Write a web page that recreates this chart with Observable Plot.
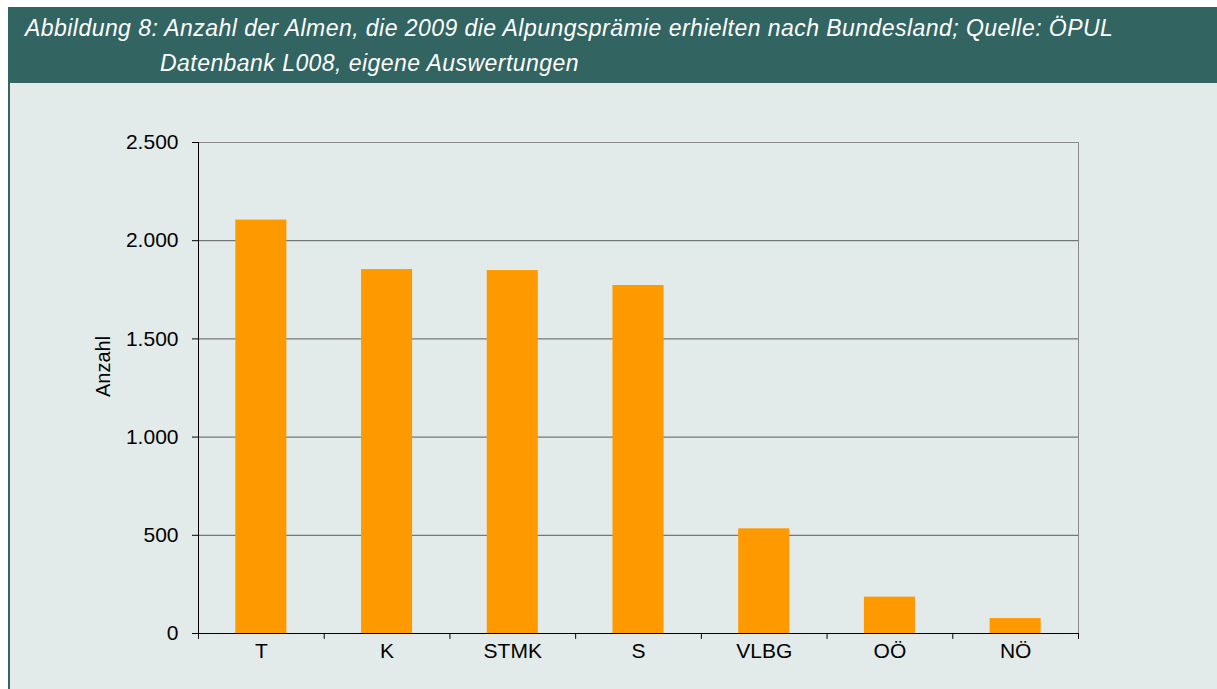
<!DOCTYPE html>
<html>
<head>
<meta charset="utf-8">
<script src="https://cdn.jsdelivr.net/npm/d3@7"></script>
<script src="https://cdn.jsdelivr.net/npm/@observablehq/plot@0.6"></script>
<style>
  html, body { margin: 0; padding: 0; background: #ffffff; width: 1217px; height: 689px; overflow: hidden; }
  #header { position: absolute; left: 8px; top: 7px; width: 1209px; height: 76px; background: #326462; }
  .tl { position: absolute; color: #ffffff; font-family: "Liberation Sans", Arial, sans-serif; font-style: italic; font-size: 23px; line-height: 23px; letter-spacing: 0.45px; white-space: nowrap; }
  #panel { position: absolute; left: 8px; top: 83px; width: 1207px; height: 606px; background: #e2ebe9; border-left: 2px solid #326462; }
  #chart { position: absolute; left: 10px; top: 83px; }
</style>
</head>
<body>
<div id="header"></div>
<div class="tl" id="t1" style="left:25px; top:16.5px;"></div>
<div class="tl" id="t2" style="left:160px; top:51.5px;"></div>
<div id="panel"></div>
<div id="chart"></div>
<script>
const titleLines = [
  "Abbildung 8: Anzahl der Almen, die 2009 die Alpungsprämie erhielten nach Bundesland; Quelle: ÖPUL",
  "Datenbank L008, eigene Auswertungen"
];
const categories = ["T", "K", "STMK", "S", "VLBG", "OÖ", "NÖ"];
const values = [2105, 1853, 1848, 1772, 533, 185, 76];
const yTicks = [0, 500, 1000, 1500, 2000, 2500];
const gridTicks = [500, 1000, 1500, 2000];
const yLabel = "Anzahl";

document.getElementById("t1").textContent = titleLines[0];
document.getElementById("t2").textContent = titleLines[1];

const de = d3.formatLocale({decimal: ",", thousands: ".", grouping: [3], currency: ["", " €"]});
const fmt = de.format(",.0f");

const W = 1207, H = 606, mL = 188, mR = 139, mT = 59, mB = 56;
const step = (W - mL - mR) / categories.length;
const data = categories.map((c, i) => ({cat: c, val: values[i]}));

const chart = Plot.plot({
  width: W,
  height: H,
  marginLeft: mL,
  marginRight: mR,
  marginTop: mT,
  marginBottom: mB,
  style: {background: "transparent", fontFamily: "'Liberation Sans', Arial, sans-serif", fontSize: "21px", color: "#000"},
  x: {domain: categories, paddingInner: 0.594, paddingOuter: 0.297, round: false, label: null, axis: null},
  y: {domain: [0, 2500], label: null, axis: null},
  marks: [
    Plot.ruleY(gridTicks, {stroke: "#5c5c5c", strokeWidth: 1}),
    Plot.frame({stroke: "#8a8a8a"}),
    Plot.barY(data, {x: "cat", y: "val", fill: "#ff9900"}),
    Plot.ruleY([0], {stroke: "#000"}),
    Plot.ruleX([categories[0]], {x: d => d, dx: -step / 2, y1: 0, y2: 2500, stroke: "#000"}),
    Plot.ruleX(categories, {x: d => d, dx: -step / 2, y1: 0, y2: -30, stroke: "#000"}),
    Plot.ruleX([categories[categories.length - 1]], {x: d => d, dx: step / 2, y1: 0, y2: -30, stroke: "#000"}),
    Plot.axisY(yTicks, {tickSize: 6, tickPadding: 14, tickFormat: fmt, stroke: "#000", fill: "#000", fontSize: 21, label: null}),
    Plot.axisX({tickSize: 0, tickPadding: 10, fill: "#000", fontSize: 21, label: null}),
    Plot.text([yLabel], {frameAnchor: "left", rotate: -90, dx: -95, dy: 9, fontSize: 20, fill: "#000"})
  ]
});
document.getElementById("chart").appendChild(chart);
</script>
</body>
</html>
